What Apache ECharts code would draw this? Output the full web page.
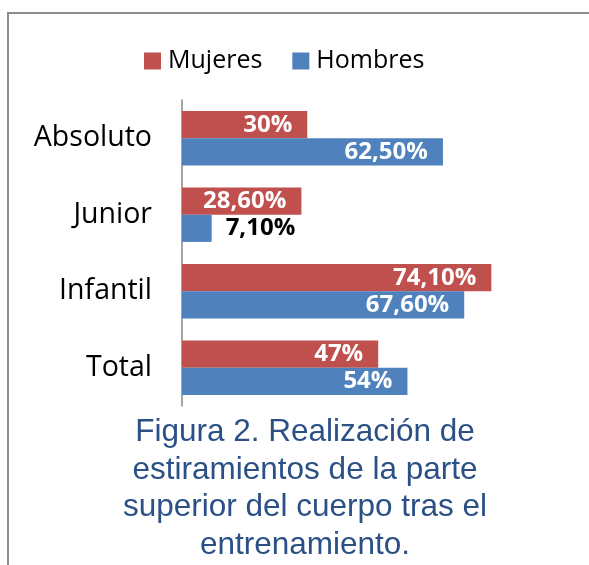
<!DOCTYPE html>
<html>
<head>
<meta charset="utf-8">
<script src="https://cdn.jsdelivr.net/npm/echarts@6/dist/echarts.min.js"></script>
<style>
  html, body { margin: 0; padding: 0; background: #fff; }
  #chart { width: 589px; height: 565px; }
</style>
</head>
<body>
<div id="chart"></div>
<script>
const categories = ['Absoluto', 'Junior', 'Infantil', 'Total'];
const mujeres = [30, 28.6, 74.1, 47];
const hombres = [62.5, 7.1, 67.6, 54];
const seriesNames = ['Mujeres', 'Hombres'];
const titleText = 'Figura 2. Realización de\nestiramientos de la parte\nsuperior del cuerpo tras el\nentrenamiento.';

// 30 -> "30%", 62.5 -> "62,50%"
function fmt(v) {
  return Number.isInteger(v) ? v + '%' : v.toFixed(2).replace('.', ',') + '%';
}

// short bars get their label outside in black
function toItems(arr) {
  return arr.map(v => {
    if (v < 15) {
      return { value: v, label: { position: 'right', distance: 14, color: '#000' } };
    }
    return v;
  });
}

const labelStyle = {
  show: true,
  position: 'insideRight',
  distance: 15,
  color: '#fff',
  fontFamily: 'Open Sans',
  fontWeight: 'bold',
  fontSize: 24,
  formatter: p => fmt(p.value),
};

let myChart = echarts.init(document.getElementById('chart'));
let option = {
  backgroundColor: '#fff',
  animation: false,
  graphic: [
    {
      type: 'rect',
      shape: { x: 8, y: 13, width: 700, height: 700 },
      style: { fill: 'none', stroke: '#8c8c8c', lineWidth: 2 },
      silent: true,
    },
  ],
  title: {
    text: titleText,
    left: 300,
    textAlign: 'center',
    top: 409,
    textStyle: {
      fontFamily: 'Liberation Sans',
      fontWeight: 'normal',
      fontSize: 31.5,
      lineHeight: 37.5,
      color: '#2a5086',
    },
  },
  legend: {
    data: seriesNames,
    left: 139,
    top: 41,
    icon: 'rect',
    itemWidth: 17,
    itemHeight: 17,
    itemGap: 30,
    textStyle: {
      fontFamily: 'Open Sans',
      fontSize: 25,
      lineHeight: 30,
      color: '#000',
      padding: [0, 0, 0, 2],
    },
  },
  grid: {
    left: 182,
    top: 100,
    width: 334,
    height: 306,
  },
  xAxis: {
    type: 'value',
    min: 0,
    max: 80,
    show: false,
  },
  yAxis: {
    type: 'category',
    data: categories,
    inverse: true,
    axisLine: { lineStyle: { color: '#868686', width: 1.5 } },
    axisTick: { show: false },
    axisLabel: {
      margin: 30,
      fontFamily: 'Open Sans',
      fontSize: 28.5,
      color: '#000',
    },
    splitLine: { show: false },
  },
  series: [
    {
      name: seriesNames[0],
      type: 'bar',
      data: toItems(mujeres),
      itemStyle: { color: '#c0504d' },
      barGap: '0%',
      barCategoryGap: '29%',
      label: labelStyle,
    },
    {
      name: seriesNames[1],
      type: 'bar',
      data: toItems(hombres),
      itemStyle: { color: '#4f81bd' },
      barGap: '0%',
      barCategoryGap: '29%',
      label: labelStyle,
    },
  ],
};
myChart.setOption(option);
</script>
</body>
</html>
